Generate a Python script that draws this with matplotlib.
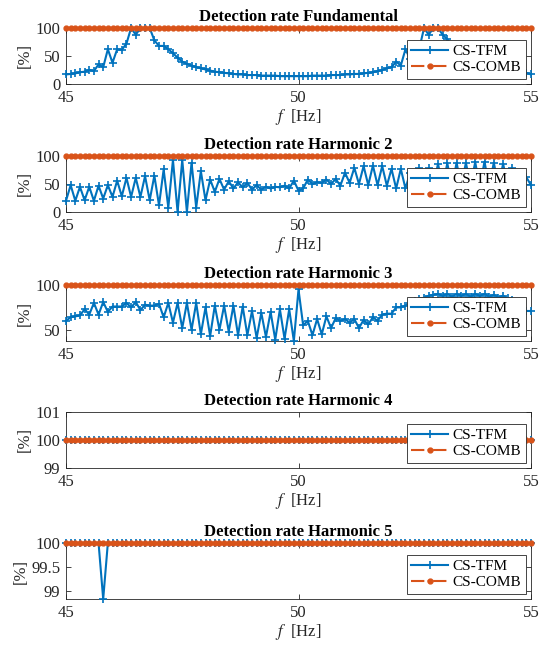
import numpy as np
import matplotlib
matplotlib.use("Agg")
import matplotlib.pyplot as plt

freq = np.round(np.arange(450, 551) / 10.0, 1)

titles = ["Detection rate Fundamental", "Detection rate Harmonic 2",
          "Detection rate Harmonic 3", "Detection rate Harmonic 4",
          "Detection rate Harmonic 5"]
series_names = ["CS-TFM", "CS-COMB"]

tfm_fund = [17, 18, 19, 21, 22, 25, 23, 35, 30, 62,
            38, 62, 61, 72, 100, 88, 100, 100, 100, 78,
            68, 68, 62, 55, 47, 40, 36, 33, 30, 28,
            26, 24, 22, 21, 20, 19, 18, 17, 17, 16,
            16, 16, 15, 15, 15, 15, 14, 14, 14, 14,
            14, 14, 14, 15, 15, 15, 15, 16, 16, 16,
            17, 17, 18, 18, 19, 20, 21, 23, 25, 28,
            30, 40, 33, 62, 45, 68, 64, 100, 88, 100,
            100, 88, 80, 68, 62, 55, 47, 40, 35, 31,
            28, 26, 24, 23, 22, 21, 20, 20, 19, 20,
            17]

tfm_h2 = [20, 48, 20, 45, 21, 45, 20, 47, 24, 48,
          27, 56, 28, 61, 27, 61, 27, 64, 21, 65,
          12, 76, 8, 93, 0, 93, 0, 88, 8, 73,
          21, 58, 36, 59, 40, 55, 42, 53, 44, 52,
          40, 48, 40, 45, 42, 45, 44, 47, 42, 56,
          38, 42, 58, 50, 53, 52, 58, 50, 59, 47,
          70, 52, 79, 50, 82, 48, 83, 48, 82, 47,
          77, 42, 77, 42, 70, 45, 78, 45, 78, 47,
          86, 46, 87, 45, 88, 46, 88, 47, 89, 45,
          90, 46, 88, 47, 86, 48, 78, 50, 66, 62,
          48]

tfm_h3 = [60, 64, 65, 66, 73, 67, 80, 67, 81, 70,
          76, 76, 76, 80, 75, 81, 72, 78, 77, 77,
          79, 64, 80, 58, 80, 52, 80, 50, 80, 45,
          75, 43, 77, 50, 77, 48, 77, 44, 76, 44,
          71, 41, 69, 42, 70, 39, 73, 40, 73, 37.5,
          95, 55, 60, 44, 62, 45, 65, 52, 63, 60,
          62, 58, 62, 52, 61, 56, 64, 60, 67, 68,
          68, 75, 75, 77, 80, 82, 84, 86, 88, 89,
          90, 88, 90, 87, 90, 88, 90, 87, 90, 88,
          90, 87, 89, 86, 88, 85, 83, 80, 75, 71,
          71]

tfm_h4 = [100, 100, 100, 100, 100, 100, 100, 100, 100, 100,
          100, 100, 100, 100, 100, 100, 100, 100, 100, 100,
          100, 100, 100, 100, 100, 100, 100, 100, 100, 100,
          100, 100, 100, 100, 100, 100, 100, 100, 100, 100,
          100, 100, 100, 100, 100, 100, 100, 100, 100, 100,
          100, 100, 100, 100, 100, 100, 100, 100, 100, 100,
          100, 100, 100, 100, 100, 100, 100, 100, 100, 100,
          100, 100, 100, 100, 100, 100, 100, 100, 100, 100,
          100, 100, 100, 100, 100, 100, 100, 100, 100, 100,
          100, 100, 100, 100, 100, 100, 100, 100, 100, 100,
          100]

tfm_h5 = [100, 100, 100, 100, 100, 100, 100, 100, 98.83, 100,
          100, 100, 100, 100, 100, 100, 100, 100, 100, 100,
          100, 100, 100, 100, 100, 100, 100, 100, 100, 100,
          100, 100, 100, 100, 100, 100, 100, 100, 100, 100,
          100, 100, 100, 100, 100, 100, 100, 100, 100, 100,
          100, 100, 100, 100, 100, 100, 100, 100, 100, 100,
          100, 100, 100, 100, 100, 100, 100, 100, 100, 100,
          100, 100, 100, 100, 100, 100, 100, 100, 100, 100,
          100, 100, 100, 100, 100, 100, 100, 100, 100, 100,
          100, 100, 100, 100, 100, 100, 100, 100, 100, 100,
          100]

comb_rate = [100, 100, 100, 100, 100, 100, 100, 100, 100, 100,
             100, 100, 100, 100, 100, 100, 100, 100, 100, 100,
             100, 100, 100, 100, 100, 100, 100, 100, 100, 100,
             100, 100, 100, 100, 100, 100, 100, 100, 100, 100,
             100, 100, 100, 100, 100, 100, 100, 100, 100, 100,
             100, 100, 100, 100, 100, 100, 100, 100, 100, 100,
             100, 100, 100, 100, 100, 100, 100, 100, 100, 100,
             100, 100, 100, 100, 100, 100, 100, 100, 100, 100,
             100, 100, 100, 100, 100, 100, 100, 100, 100, 100,
             100, 100, 100, 100, 100, 100, 100, 100, 100, 100,
             100]

tfm_all = [tfm_fund, tfm_h2, tfm_h3, tfm_h4, tfm_h5]
ylims = [(0, 100), (0, 100), (min(tfm_h3), 100), (99, 101), (min(tfm_h5), 100)]
yticks = [[0, 50, 100], [0, 50, 100], [50, 100], [99, 100, 101], [99, 99.5, 100]]
ytick_labels = [["0", "50", "100"], ["0", "50", "100"], ["50", "100"],
                ["99", "100", "101"], ["99", "99.5", "100"]]
xticks = [45, 50, 55]

plt.rcParams['font.family'] = ['Liberation Serif', 'DejaVu Serif']
plt.rcParams['mathtext.fontset'] = 'stix'

W, H = 551, 649
fig = plt.figure(figsize=(W / 100, H / 100), dpi=100)

blue = '#0072BD'
orange = '#D95319'
axcol = '#262626'

tops = [28, 156, 285, 412, 543]
ax_h = 56
left, right = 66, 531

for i in range(5):
    top = tops[i]
    ax = fig.add_axes([left / W, 1 - (top + ax_h) / H, (right - left) / W, ax_h / H])
    ax.plot(freq, tfm_all[i], color=blue, lw=1.5, marker='+', ms=5.5, mew=1.2,
            label=series_names[0], clip_on=False, zorder=3)
    ax.plot(freq, comb_rate, color=orange, lw=1.5, ls='-.', marker='.', ms=7,
            label=series_names[1], clip_on=False, zorder=4)
    ax.set_xlim(45, 55)
    ax.set_ylim(*ylims[i])
    ax.set_xticks(xticks)
    ax.set_xticklabels([str(t) for t in xticks])
    ax.set_yticks(yticks[i])
    ax.set_yticklabels(ytick_labels[i])
    ax.tick_params(direction='in', length=3.5, width=0.6, colors=axcol,
                   labelsize=12, top=True, right=True, pad=4)
    for s in ax.spines.values():
        s.set_color(axcol)
        s.set_linewidth(0.6)
    ax.set_title(titles[i], fontsize=12, fontweight='bold', pad=5, color='black')
    ax.set_xlabel(r'$f$  [Hz]', fontsize=12, color=axcol, labelpad=1)
    ax.set_ylabel('[%]', fontsize=12, color=axcol, labelpad=2)
    leg = ax.legend(loc='lower right', fontsize=11, frameon=True, fancybox=False,
                    framealpha=1, edgecolor=axcol, borderaxespad=0.35,
                    handlelength=2.4, handletextpad=0.3, borderpad=0.3,
                    labelspacing=0.15)
    leg.get_frame().set_linewidth(0.6)
    leg.set_zorder(10)

fig.savefig('out.png', dpi=100)
